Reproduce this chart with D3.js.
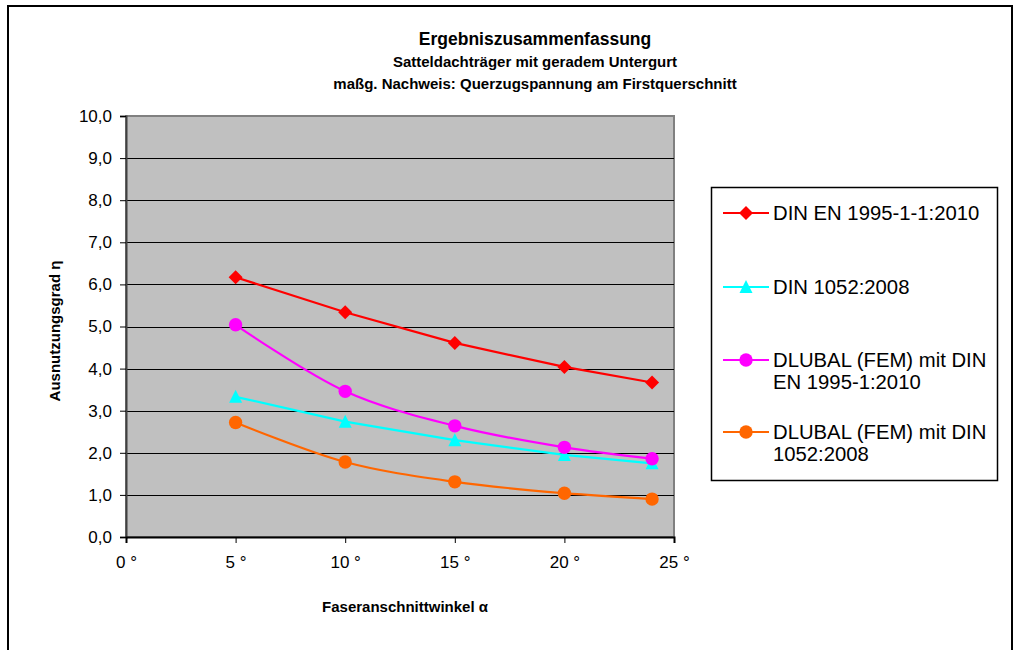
<!DOCTYPE html>
<html>
<head>
<meta charset="utf-8">
<script src="https://cdn.jsdelivr.net/npm/d3@7"></script>
<style>
  body { margin: 0; background: #fff; }
  svg text { font-family: Arial, "Liberation Sans", sans-serif; fill: #000; }
</style>
</head>
<body>
<svg id="chart" width="1019" height="650"></svg>
<script>
// Fibre-angle categories (degrees)
const angles = [5, 10, 15, 20, 24];

// Utilisation ratio per method
const dinEn1995 = [6.17, 5.34, 4.61, 4.04, 3.67];
const din1052 = [3.33, 2.74, 2.30, 1.95, 1.75];
const dlubalEn1995 = [5.04, 3.46, 2.64, 2.13, 1.86];
const dlubal1052 = [2.72, 1.78, 1.31, 1.04, 0.90];

const seriesNames = [
  ["DIN EN 1995-1-1:2010"],
  ["DIN 1052:2008"],
  ["DLUBAL (FEM) mit DIN", "EN 1995-1:2010"],
  ["DLUBAL (FEM) mit DIN", "1052:2008"]
];

const xTicks = [0, 5, 10, 15, 20, 25];
const yTicks = [0, 1, 2, 3, 4, 5, 6, 7, 8, 9, 10];

const titleLines = [
  "Ergebniszusammenfassung",
  "Satteldachträger mit geradem Untergurt",
  "maßg. Nachweis: Querzugspannung am Firstquerschnitt"
];
const xTitle = "Faseranschnittwinkel α";
const yTitle = "Ausnutzungsgrad η";

const series = [
  { values: dinEn1995, color: "#FF0000", marker: "diamond", smooth: false },
  { values: din1052, color: "#00FFFF", marker: "triangle", smooth: false },
  { values: dlubalEn1995, color: "#FF00FF", marker: "circle", smooth: true },
  { values: dlubal1052, color: "#FF6600", marker: "circle", smooth: true }
];

const svg = d3.select("#chart");

// outer chart frame
svg.append("rect")
  .attr("x", 8).attr("y", 6).attr("width", 1004).attr("height", 660)
  .attr("fill", "#fff").attr("stroke", "#000").attr("stroke-width", 2);

const plot = { left: 126, right: 674, top: 116, bottom: 537 };

const x = d3.scaleLinear().domain([0, 25]).range([plot.left, plot.right]);
const y = d3.scaleLinear().domain([0, 10]).range([plot.bottom, plot.top]);

// plot area background
svg.append("rect")
  .attr("x", plot.left).attr("y", plot.top)
  .attr("width", plot.right - plot.left).attr("height", plot.bottom - plot.top)
  .attr("fill", "#C0C0C0").attr("stroke", "#808080").attr("stroke-width", 2);

// horizontal gridlines
svg.append("g")
  .selectAll("line")
  .data(yTicks.filter(t => t > 0 && t < 10))
  .join("line")
  .attr("x1", plot.left).attr("x2", plot.right)
  .attr("y1", d => Math.round(y(d)) + 0.5).attr("y2", d => Math.round(y(d)) + 0.5)
  .attr("stroke", "#000").attr("stroke-width", 1);

// y axis
const yAxis = svg.append("g")
  .attr("transform", `translate(${plot.left},0)`)
  .call(d3.axisLeft(y).tickValues(yTicks).tickSize(6).tickPadding(8)
    .tickFormat(d => d3.format(".1f")(d).replace(".", ",")));
yAxis.select(".domain").attr("stroke", "#404040").attr("stroke-width", 2);
yAxis.selectAll(".tick line").attr("stroke", "#000");
yAxis.selectAll("text").attr("font-size", 17).attr("fill", "#000");

// x axis
const xAxis = svg.append("g")
  .attr("transform", `translate(0,${plot.bottom})`)
  .call(d3.axisBottom(x).tickValues(xTicks).tickSize(6).tickPadding(13)
    .tickFormat(d => d + " °"));
xAxis.select(".domain").attr("stroke", "#000").attr("stroke-width", 2);
xAxis.selectAll(".tick line").attr("stroke", "#000");
xAxis.selectAll("text").attr("font-size", 17).attr("fill", "#000");

// marker shapes
function drawMarker(g, type, color) {
  if (type === "diamond") {
    g.append("path").attr("d", "M0,-7L7,0L0,7L-7,0Z").attr("fill", color);
  } else if (type === "triangle") {
    g.append("path").attr("d", "M0,-7L6.5,6L-6.5,6Z").attr("fill", color);
  } else {
    g.append("circle").attr("r", 6.7).attr("fill", color);
  }
}

series.forEach(s => {
  const pts = angles.map((a, i) => [a, s.values[i]]);
  const line = d3.line()
    .x(d => x(d[0])).y(d => y(d[1]))
    .curve(s.smooth ? d3.curveCatmullRom.alpha(0.5) : d3.curveLinear);
  svg.append("path")
    .attr("d", line(pts))
    .attr("fill", "none").attr("stroke", s.color).attr("stroke-width", 2.2);
  pts.forEach(p => {
    const g = svg.append("g").attr("transform", `translate(${x(p[0])},${y(p[1])})`);
    drawMarker(g, s.marker, s.color);
  });
});

// titles
const titleSizes = [17.5, 15, 15];
const titleBaselines = [45, 67, 89];
titleLines.forEach((t, i) => {
  svg.append("text")
    .attr("x", 535).attr("y", titleBaselines[i])
    .attr("text-anchor", "middle").attr("font-weight", "bold")
    .attr("font-size", titleSizes[i]).text(t);
});

svg.append("text")
  .attr("x", 405).attr("y", 612)
  .attr("text-anchor", "middle").attr("font-weight", "bold")
  .attr("font-size", 15).text(xTitle);

svg.append("text")
  .attr("transform", "translate(60,331) rotate(-90)")
  .attr("text-anchor", "middle").attr("font-weight", "bold")
  .attr("font-size", 15).text(yTitle);

// legend
const legend = svg.append("g");
legend.append("rect")
  .attr("x", 711.5).attr("y", 187.5).attr("width", 286).attr("height", 293)
  .attr("fill", "#fff").attr("stroke", "#000").attr("stroke-width", 1.5);

const legendY = [213, 287, 360, 432];
series.forEach((s, i) => {
  const ly = legendY[i];
  legend.append("line")
    .attr("x1", 723).attr("x2", 769).attr("y1", ly).attr("y2", ly)
    .attr("stroke", s.color).attr("stroke-width", 2.2);
  const g = legend.append("g").attr("transform", `translate(746,${ly})`);
  drawMarker(g, s.marker, s.color);
  seriesNames[i].forEach((txt, j) => {
    legend.append("text")
      .attr("x", 773).attr("y", ly + 7 + j * 22)
      .attr("font-size", 20.3).text(txt);
  });
});
</script>
</body>
</html>
